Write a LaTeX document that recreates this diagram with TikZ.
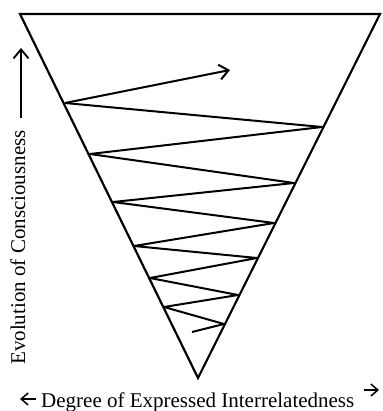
\documentclass[tikz,border=0pt]{standalone}
\usepackage{fontspec}
\setmainfont{Liberation Serif}
\usetikzlibrary{arrows.meta}

\begin{document}
\begin{tikzpicture}[x=1pt,y=-1pt,
  rim/.style={line width=2.2pt, line join=miter},
  zig/.style={line width=2pt, line join=round},
  lbl/.style={inner sep=0pt, font=\fontsize{21}{25}\selectfont}]
\useasboundingbox (0,0) rectangle (382,411);
% cone
\coordinate (tl) at (20,14); \coordinate (tr) at (380,14); \coordinate (apex) at (198,378);
\draw[rim] (tl) -- (tr) -- (apex) -- cycle;
% zigzag, bottom to top
\foreach \x/\y [count=\k from 0] in {192/332, 224/324, 164/307, 238/295, 150/278, 257/258, 134/246,
  274/223, 113/202, 294/183, 90/154, 322/127, 65/103}
  \coordinate (z\k) at (\x,\y);
\coordinate (tip) at (230,70);
\draw[zig] (z0) \foreach \k in {1,...,12} {-- (z\k)};
\draw[zig, -{Straight Barb[length=9pt,width=15pt]}] (z12) -- (tip);
% axes
\coordinate (ub) at (21,118); \coordinate (ut) at (21,48);
\draw[line width=1.8pt, -{Straight Barb[length=9pt,width=15pt]}] (ub) -- (ut);
\node[lbl, rotate=90, anchor=base west] (evo) at (25,365) {Evolution of Consciousness};
\node[lbl, anchor=base west] (deg) at (41,407) {Degree of Expressed Interrelatedness};
\coordinate (la) at (36,399); \coordinate (lb) at (20,399);
\coordinate (ra) at (364,390); \coordinate (rb) at (379,390);
\draw[line width=1.5pt, -{Straight Barb[length=7pt,width=12pt]}] (la) -- (lb);
\draw[line width=1.5pt, -{Straight Barb[length=7pt,width=12pt]}] (ra) -- (rb);
\end{tikzpicture}
\end{document}
